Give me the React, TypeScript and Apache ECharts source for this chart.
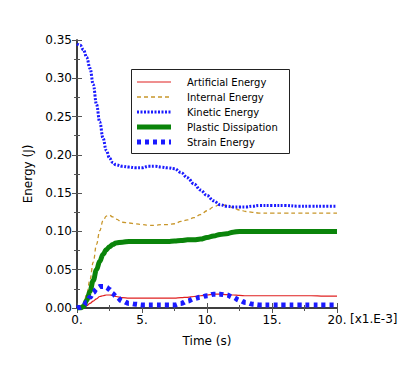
import React, { useEffect, useRef } from "react";
import * as echarts from "echarts";

const times = [0, 0.25, 0.5, 0.75, 1, 1.25, 1.5, 1.75, 2, 2.25, 2.5, 2.75, 3, 3.5, 4, 4.5, 5, 5.5, 6, 6.5, 7, 7.5, 8, 8.5, 9, 9.5, 10, 10.5, 11, 11.5, 12, 12.5, 13, 13.5, 14, 15, 16, 17, 18, 19, 20];

const artificialEnergy = [0, 0, 0.001, 0.003, 0.006, 0.009, 0.012, 0.015, 0.016, 0.017, 0.017, 0.0165, 0.015, 0.0135, 0.013, 0.013, 0.013, 0.013, 0.013, 0.013, 0.013, 0.013, 0.0135, 0.014, 0.015, 0.016, 0.017, 0.018, 0.018, 0.0175, 0.017, 0.0165, 0.016, 0.016, 0.016, 0.016, 0.016, 0.016, 0.016, 0.0155, 0.0155];

const internalEnergy = [0, 0, 0.004, 0.018, 0.037, 0.06, 0.083, 0.101, 0.114, 0.12, 0.121, 0.119, 0.116, 0.112, 0.111, 0.11, 0.109, 0.108, 0.108, 0.109, 0.109, 0.11, 0.113, 0.115, 0.118, 0.122, 0.127, 0.132, 0.135, 0.134, 0.131, 0.128, 0.126, 0.125, 0.124, 0.124, 0.124, 0.124, 0.124, 0.124, 0.124];

const kineticEnergy = [0.345, 0.343, 0.337, 0.327, 0.313, 0.292, 0.266, 0.243, 0.222, 0.206, 0.196, 0.19, 0.187, 0.185, 0.184, 0.183, 0.183, 0.185, 0.185, 0.184, 0.183, 0.182, 0.177, 0.17, 0.162, 0.154, 0.147, 0.14, 0.135, 0.133, 0.132, 0.132, 0.132, 0.133, 0.134, 0.134, 0.134, 0.133, 0.133, 0.133, 0.133];

const plasticDissipation = [0, 0, 0.002, 0.01, 0.022, 0.036, 0.05, 0.061, 0.07, 0.076, 0.08, 0.083, 0.085, 0.086, 0.087, 0.087, 0.087, 0.087, 0.087, 0.087, 0.087, 0.0875, 0.088, 0.089, 0.089, 0.09, 0.092, 0.094, 0.096, 0.097, 0.099, 0.1, 0.1, 0.1, 0.1, 0.1, 0.1, 0.1, 0.1, 0.1, 0.1];

const strainEnergy = [0, 0.001, 0.003, 0.008, 0.014, 0.02, 0.025, 0.028, 0.028, 0.027, 0.024, 0.019, 0.015, 0.009, 0.006, 0.005, 0.004, 0.004, 0.004, 0.004, 0.004, 0.004, 0.006, 0.009, 0.012, 0.014, 0.016, 0.018, 0.018, 0.017, 0.014, 0.01, 0.007, 0.005, 0.004, 0.004, 0.004, 0.004, 0.004, 0.004, 0.004];

const seriesNames = ["Artificial Energy", "Internal Energy", "Kinetic Energy", "Plastic Dissipation", "Strain Energy"];

const FONT = "DejaVu Sans";

const styles = [
  { color: "#e02020", width: 1.2, dash: null as number[] | null },
  { color: "#c8962a", width: 1.3, dash: [4, 3] },
  { color: "#1a1aff", width: 3, dash: [2, 1.5] },
  { color: "#0a840a", width: 5, dash: null },
  { color: "#1a1aff", width: 5, dash: [4, 4] },
];

export default function App() {
  const ref = useRef<HTMLDivElement>(null);
  useEffect(() => {
    if (!ref.current) return;
    const chart = echarts.init(ref.current, null, { renderer: "svg" });
    const pairs = (arr: number[]) => times.map((t, i) => [t, arr[i]]);
    const axisLine = { show: true, lineStyle: { color: "#333", width: 1.5 } };
    const tick = { show: true, inside: true, length: 5, lineStyle: { color: "#555", width: 1 } };
    const minor = { show: true, splitNumber: 2, length: 3, lineStyle: { color: "#555", width: 1 } };
    const base = { type: "line", symbol: "none", showSymbol: false, smooth: 0.4, smoothMonotone: "x", z: 2 } as any;
    const allData = [artificialEnergy, internalEnergy, kineticEnergy, plasticDissipation, strainEnergy];

    const legendEls: any[] = [
      { type: "rect", shape: { x: 131.5, y: 69.5, width: 158, height: 84 }, style: { fill: "#fff", stroke: "#222", lineWidth: 1 }, z: 10 },
    ];
    seriesNames.forEach((n, i) => {
      const s = styles[i];
      const y = 82 + 15 * i;
      legendEls.push({
        type: "line", shape: { x1: 137, y1: y, x2: 171, y2: y },
        style: { stroke: s.color, lineWidth: s.width, lineDash: s.dash || undefined }, z: 11,
      });
      legendEls.push({
        type: "text", x: 187, y, style: { text: n, font: `10px '${FONT}'`, fill: "#000", textVerticalAlign: "middle", verticalAlign: "middle" }, z: 11,
      });
    });

    chart.setOption({
      animation: false,
      backgroundColor: "#fff",
      textStyle: { fontFamily: FONT },
      grid: { left: 77, top: 40, width: 260, height: 268, containLabel: false },
      xAxis: [
        {
          type: "value", min: 0, max: 20, interval: 5, position: "bottom",
          name: "Time (s)", nameLocation: "middle", nameGap: 27,
          nameTextStyle: { fontFamily: FONT, fontSize: 12, color: "#000" },
          axisLine, axisTick: tick, minorTick: minor, splitLine: { show: false },
          axisLabel: { fontFamily: FONT, fontSize: 12, color: "#000", margin: 6, formatter: (v: number) => v + "." },
        },
        {
          type: "value", min: 0, max: 20, interval: 5, position: "top",
          axisLine, axisTick: tick, minorTick: minor, splitLine: { show: false }, axisLabel: { show: false },
        },
      ],
      yAxis: [
        {
          type: "value", min: 0, max: 0.35, interval: 0.05, position: "left",
          name: "Energy (J)", nameLocation: "middle", nameGap: 37,
          nameTextStyle: { fontFamily: FONT, fontSize: 12, color: "#000" },
          axisLine, axisTick: tick, minorTick: minor, splitLine: { show: false },
          axisLabel: { fontFamily: FONT, fontSize: 12, color: "#000", margin: 5, formatter: (v: number) => v.toFixed(2) },
        },
        {
          type: "value", min: 0, max: 0.35, interval: 0.05, position: "right",
          axisLine, axisTick: tick, minorTick: minor, splitLine: { show: false }, axisLabel: { show: false },
        },
      ],
      graphic: [
        { type: "text", left: 350, top: 313, style: { text: "[x1.E-3]", font: `12px '${FONT}'`, fill: "#000" } },
        ...legendEls,
      ],
      series: seriesNames.map((n, i) => ({
        ...base,
        name: n,
        data: pairs(allData[i]),
        lineStyle: { color: styles[i].color, width: styles[i].width, type: styles[i].dash || "solid" },
        itemStyle: { color: styles[i].color },
      })),
    });
    return () => chart.dispose();
  }, []);
  return <div ref={ref} style={{ width: 419, height: 368, position: "absolute", left: 0, top: 0 }} />;
}
